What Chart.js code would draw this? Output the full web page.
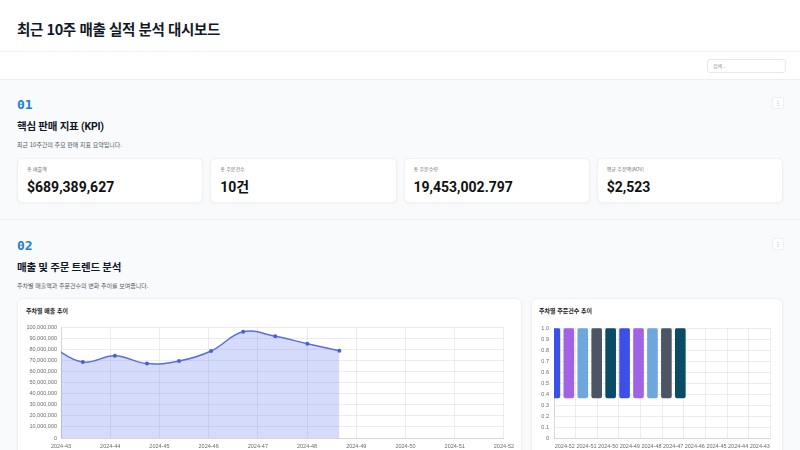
<!DOCTYPE html>
<html lang="ko">
<head>
<meta charset="utf-8">
<title>최근 10주 매출 실적 분석 대시보드</title>
<script src="https://cdn.jsdelivr.net/npm/chart.js@4.4.1/dist/chart.umd.min.js"></script>
<style>
  html, body { margin: 0; padding: 0; width: 800px; height: 450px; overflow: hidden; }
  body { position: relative; background: #f8fafc; color: #111827;
         font-family: Roboto, "Noto Sans CJK KR", sans-serif; }
  .abs { position: absolute; }
  .header { left: 0; top: 0; width: 800px; height: 51px; background: #fff; border-bottom: 1px solid #eef0f3; }
  .header h1 { position: absolute; left: 17px; top: 19px; margin: 0; font-size: 14.5px; line-height: 20px;
               font-weight: 700; letter-spacing: -0.4px; font-family: "Noto Sans CJK KR", sans-serif; }
  .toolbar { left: 0; top: 52px; width: 800px; height: 27px; background: #fff; border-bottom: 1px solid #eceef1; }
  .search { position: absolute; left: 707px; top: 7px; width: 72px; height: 12px; border: 1px solid #e6e8eb;
            border-radius: 3px; background: #fff; font-size: 5px; line-height: 12px; color: #8a8f96; padding-left: 5px; }
  .divider { left: 0; top: 219px; width: 800px; height: 1px; background: #eceef1; }
  .num { left: 17px; font-family: "DejaVu Sans Mono", monospace; font-weight: 700; font-size: 13px;
         line-height: 16px; color: #1e7fd9; }
  .kebab { left: 772px; width: 10px; height: 10px; background: #fff; border: 1px solid #eef0f3; border-radius: 2px;
           font-size: 6px; line-height: 10px; text-align: center; color: #9aa0a6; }
  .sec-title { left: 17px; font-size: 10.5px; line-height: 14px; font-weight: 700; letter-spacing: -0.2px;
               font-family: Roboto, "Noto Sans CJK KR", sans-serif; }
  .sec-sub { left: 17px; font-size: 6px; line-height: 8px; color: #555b63; font-family: "Noto Sans CJK KR", sans-serif; }
  .kpis { left: 17px; top: 158px; width: 766px; height: 45px; display: flex; gap: 7px; }
  .kpi { flex: 1; position: relative; background: #fff; border-radius: 5px; border: 1px solid #f0f1f3;
         box-shadow: 0 1px 3px rgba(0,0,0,0.04); box-sizing: border-box; }
  .kpi .lbl { position: absolute; left: 9px; top: 7px; font-size: 5px; line-height: 6px; color: #6b7078;
              font-family: "Noto Sans CJK KR", sans-serif; }
  .kpi .val { position: absolute; left: 9px; top: 20px; font-size: 14px; line-height: 17px; font-weight: 700; color: #111; }
  .card { top: 298px; height: 170px; background: #fff; border-radius: 6px; border: 1px solid #f0f1f3;
          box-shadow: 0 1px 3px rgba(0,0,0,0.04); box-sizing: border-box; }
  .card-title { top: 307px; font-size: 6px; line-height: 8px; font-weight: 600; color: #222;
                font-family: "Noto Sans CJK KR", sans-serif; }
  .chart-box { top: 320px; height: 138px; }
</style>
</head>
<body>
  <div class="abs header"><h1>최근 10주 매출 실적 분석 대시보드</h1></div>
  <div class="abs toolbar"><div class="search">검색...</div></div>

  <div class="abs num" style="top:97px">01</div>
  <div class="abs kebab" style="top:97px">⋮</div>
  <div class="abs sec-title" style="top:120px">핵심 판매 지표 (KPI)</div>
  <div class="abs sec-sub" style="top:140.5px">최근 10주간의 주요 판매 지표 요약입니다.</div>
  <div class="abs kpis">
    <div class="kpi"><div class="lbl">총 매출액</div><div class="val">$689,389,627</div></div>
    <div class="kpi"><div class="lbl">총 주문건수</div><div class="val">10건</div></div>
    <div class="kpi"><div class="lbl">총 주문수량</div><div class="val">19,453,002.797</div></div>
    <div class="kpi"><div class="lbl">평균 주문액(AOV)</div><div class="val">$2,523</div></div>
  </div>

  <div class="abs divider"></div>

  <div class="abs num" style="top:238px">02</div>
  <div class="abs kebab" style="top:238px">⋮</div>
  <div class="abs sec-title" style="top:261px">매출 및 주문 트렌드 분석</div>
  <div class="abs sec-sub" style="top:281.5px">주차별 매출액과 주문건수의 변화 추이를 보여줍니다.</div>

  <div class="abs card" style="left:17px; width:505px"></div>
  <div class="abs card" style="left:531px; width:252px"></div>
  <div class="abs card-title" style="left:26px">주차별 매출 추이</div>
  <div class="abs card-title" style="left:539px">주차별 주문건수 추이</div>

  <div class="abs chart-box" style="left:20px; width:499px"><canvas id="revenueChart"></canvas></div>
  <div class="abs chart-box" style="left:533px; width:242px"><canvas id="ordersChart"></canvas></div>

<script>
// weekly revenue chart
const weekLabels = ['2024-43', '2024-44', '2024-45', '2024-46', '2024-47',
                    '2024-48', '2024-49', '2024-50', '2024-51', '2024-52']
const weeklyRevenue = [83000000, 68600000, 74300000, 67200000, 69500000,
                       78600000, 95900000, 91900000, 85200000, 78800000]

// weekly orders chart (labels appear in reverse order)
const orderWeekLabels = ['2024-52', '2024-51', '2024-50', '2024-49', '2024-48',
                         '2024-47', '2024-46', '2024-45', '2024-44', '2024-43']
const weeklyOrders = [1, 1, 1, 1, 1, 1, 1, 1, 1, 1]
const orderBarBase = [0.365, 0.365, 0.365, 0.365, 0.365, 0.365, 0.365, 0.365, 0.365, 0.365]

const barColors = ['#3b50e8', '#a162e3', '#6ea6de', '#4b5563', '#0a4c66']

const tickFont = { size: 5.5 }
const tickColor = '#6b6b6b'
const gridColor = 'rgba(0,0,0,0.07)'

Chart.defaults.font.family = "'Liberation Sans', Arial, sans-serif"

new Chart(document.getElementById('revenueChart'), {
    type: 'line',
    data: {
        labels: weekLabels,
        datasets: [{
            data: weeklyRevenue.map((v, i) => ({ x: i, y: v })),
            xAxisID: 'xPoints',
            borderColor: '#5a6ee2',
            backgroundColor: 'rgba(88,110,240,0.25)',
            fill: true,
            tension: 0.4,
            borderWidth: 1.5,
            pointRadius: 2,
            pointBorderWidth: 0,
            pointBackgroundColor: '#4b5ddb'
        }]
    },
    options: {
        responsive: true,
        maintainAspectRatio: false,
        animation: false,
        layout: { padding: { top: 5, right: 11 } },
        plugins: { legend: { display: false }, tooltip: { enabled: false } },
        scales: {
            x: {
                type: 'category',
                offset: false,
                grid: { color: gridColor, drawTicks: false },
                ticks: { font: tickFont, color: tickColor, padding: 5, autoSkip: false, maxRotation: 0 },
                afterFit: (axis) => { axis.height = 20 }
            },
            xPoints: { type: 'linear', display: false, offset: false, min: 0.32, max: 14.13 },
            y: {
                min: 0,
                max: 100000000,
                grid: { color: gridColor, drawTicks: false },
                ticks: {
                    stepSize: 10000000, font: tickFont, color: tickColor, padding: 4,
                    callback: (v) => v.toLocaleString('en-US')
                },
                afterFit: (axis) => { axis.width = 41 }
            }
        }
    }
})

new Chart(document.getElementById('ordersChart'), {
    type: 'bar',
    data: {
        labels: orderWeekLabels,
        datasets: [{
            data: weeklyOrders.map((v, i) => ({ x: i, y: [orderBarBase[i], v] })),
            xAxisID: 'xBars',
            backgroundColor: weeklyOrders.map((v, i) => barColors[i % barColors.length]),
            borderRadius: 2,
            borderSkipped: false,
            barThickness: 10,
            clip: 0
        }]
    },
    options: {
        responsive: true,
        maintainAspectRatio: false,
        animation: false,
        layout: { padding: { top: 5, right: 2 } },
        plugins: { legend: { display: false }, tooltip: { enabled: false } },
        scales: {
            x: {
                type: 'category',
                offset: true,
                grid: { color: gridColor, drawTicks: false, offset: true },
                ticks: { font: tickFont, color: tickColor, padding: 5, autoSkip: false, maxRotation: 0 },
                afterFit: (axis) => { axis.height = 20 }
            },
            xBars: { type: 'linear', display: false, offset: false, min: -0.064, max: 15.48 },
            y: {
                min: 0,
                max: 1,
                grid: { color: gridColor, drawTicks: false },
                ticks: {
                    stepSize: 0.1, font: tickFont, color: tickColor, padding: 5,
                    callback: (v) => v === 0 ? '0' : v.toFixed(1)
                },
                afterFit: (axis) => { axis.width = 21 }
            }
        }
    }
})
</script>
</body>
</html>
